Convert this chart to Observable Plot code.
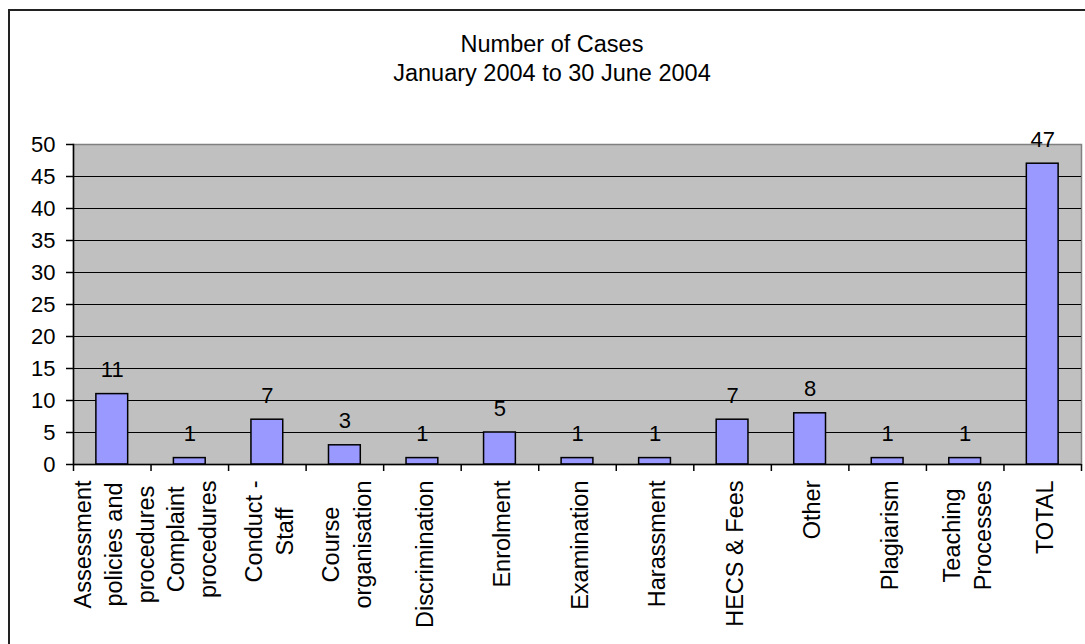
<!DOCTYPE html>
<html>
<head>
<meta charset="utf-8">
<script src="https://cdn.jsdelivr.net/npm/d3@7"></script>
<script src="https://cdn.jsdelivr.net/npm/@observablehq/plot@0.6"></script>
<style>
  html, body { margin: 0; padding: 0; background: #fff; }
  #wrap { position: relative; width: 1085px; height: 644px; overflow: hidden; background: #fff;
          font-family: "Liberation Sans", Arial, sans-serif; color: #000; }
  #border { position: absolute; left: 8px; top: 9px; width: 1200px; height: 800px;
            border: 2px solid #222; pointer-events: none; }
  #title { height: 100px; box-sizing: border-box; padding-top: 29.5px; padding-left: 19px;
           text-align: center; font-size: 23.5px; line-height: 29.4px; }
  #chart svg { display: block; }
</style>
</head>
<body>
<div id="wrap">
  <div id="border"></div>
  <div id="title">Number of Cases<br>January 2004 to 30 June 2004</div>
  <div id="chart"></div>
</div>
<script>
// ---- data ----
const categories = ["Assessment policies and procedures", "Complaint procedures", "Conduct - Staff",
  "Course organisation", "Discrimination", "Enrolment", "Examination", "Harassment",
  "HECS & Fees", "Other", "Plagiarism", "Teaching Processes", "TOTAL"];
const labelLines = ["Assessment\npolicies and\nprocedures", "Complaint\nprocedures", "Conduct -\nStaff",
  "Course\norganisation", "Discrimination", "Enrolment", "Examination", "Harassment",
  "HECS & Fees", "Other", "Plagiarism", "Teaching\nProcesses", "TOTAL"];
const cases = [11, 1, 7, 3, 1, 5, 1, 1, 7, 8, 1, 1, 47];
const yTicks = [0, 5, 10, 15, 20, 25, 30, 35, 40, 45, 50];
const gridValues = [5, 10, 15, 20, 25, 30, 35, 40, 45];

const rows = categories.map((c, i) => ({category: c, cases: cases[i], label: labelLines[i]}));

// ---- layout ----
const W = 1085, H = 544;
const mL = 73, mR = 4, mT = 44, mB = 180;
const step = (W - mL - mR) / categories.length;
const labelFont = 23.5;

// measure label lines so each rotated block starts just below the axis
const ctx = document.createElement("canvas").getContext("2d");
ctx.font = `${labelFont}px "Liberation Sans", Arial, sans-serif`;
const maxW = labelLines.map(s => d3.max(s.split("\n"), l => ctx.measureText(l).width));

const labelMarks = categories.map((c, i) =>
  Plot.text([c], {
    x: d => d, frameAnchor: "bottom", text: () => labelLines[i],
    rotate: -90, textAnchor: "middle", lineAnchor: "middle", lineHeight: 1.34,
    fontSize: labelFont, fill: "#000", dy: 16 + maxW[i] / 2
  })
);

const chart = Plot.plot({
  width: W, height: H,
  marginLeft: mL, marginRight: mR, marginTop: mT, marginBottom: mB,
  style: {fontFamily: '"Liberation Sans", Arial, sans-serif', fontSize: "22px", color: "#000", background: "transparent", overflow: "visible"},
  x: {domain: categories, paddingInner: 0.59, paddingOuter: 0.295, round: false, axis: null},
  y: {domain: [0, 50], axis: null},
  marks: [
    Plot.frame({fill: "#C0C0C0", stroke: "#808080", strokeWidth: 1.5}),
    Plot.ruleY(gridValues, {stroke: "#000", strokeWidth: 1}),
    Plot.axisY({ticks: yTicks, tickSize: 7, tickPadding: 11, fontSize: 22, stroke: "#000", strokeWidth: 1.5, label: null}),
    Plot.frame({anchor: "left", stroke: "#000", strokeWidth: 1.5}),
    Plot.barY(rows, {x: "category", y: "cases", fill: "#9999FF", stroke: "#000", strokeWidth: 1.5}),
    Plot.ruleY([0], {stroke: "#000", strokeWidth: 1.5}),
    Plot.axisX({ticks: categories, tickSize: 7, tickFormat: () => "", dx: -step / 2, stroke: "#000", strokeWidth: 1.5, label: null}),
    Plot.axisX({ticks: [categories[categories.length - 1]], tickSize: 7, tickFormat: () => "", dx: step / 2, stroke: "#000", strokeWidth: 1.5, label: null}),
    Plot.text(rows, {x: "category", y: "cases", text: d => String(d.cases), dy: -24, fontSize: 22, fill: "#000"}),
    ...labelMarks
  ]
});
document.getElementById("chart").append(chart);
</script>
</body>
</html>
